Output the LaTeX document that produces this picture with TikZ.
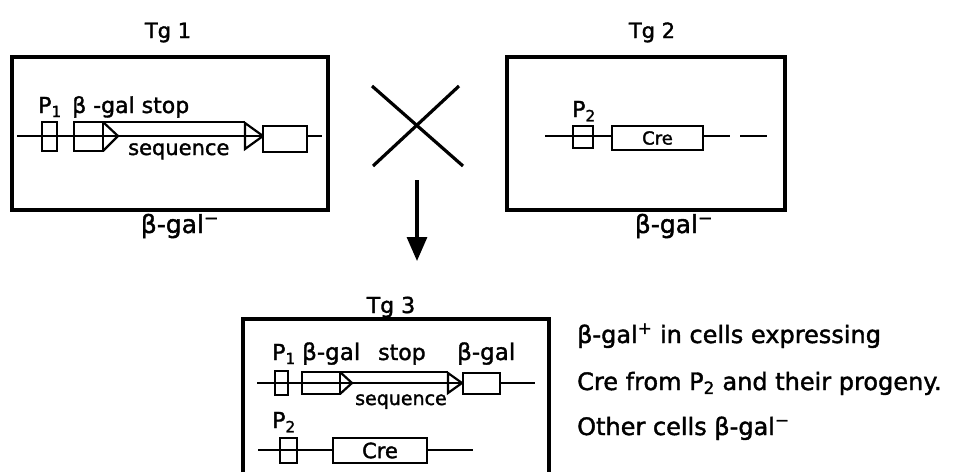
\documentclass[tikz,border=0pt]{standalone}
\usepackage{fontspec}
\setmainfont{DejaVu Sans}[FakeBold=1.6]
\usetikzlibrary{arrows.meta,positioning}

\begin{document}
\begin{tikzpicture}[
    x=1pt, y=-1pt,
    panel/.style={draw, line width=3.2pt},
    dna/.style={line width=2pt},
    part/.style={draw, line width=2.2pt},
    prom/.style={rectangle, draw, line width=2.2pt, inner sep=0pt},
    gene/.style={rectangle, draw, fill=white, line width=2.2pt, inner sep=0pt, font=\fontsize{18}{20}\selectfont},
    title/.style={font=\fontsize{21}{22}\selectfont, inner sep=0pt},
    lbl/.style={font=\fontsize{22}{24}\selectfont, inner sep=0pt},
    small/.style={font=\fontsize{19}{22}\selectfont, inner sep=0pt},
    note/.style={font=\fontsize{24}{28}\selectfont, inner sep=0pt, anchor=base west},
    cross/.style={line width=3.2pt},
    arrow/.style={-{Triangle[length=24pt, width=20pt]}, line width=3.2pt}
]
\useasboundingbox (0,0) rectangle (956,472);

% Tg1 panel
\node[panel, minimum width=316, minimum height=153] (tg1) at (170,133.5) {};
\node[title, anchor=base] (tg1lbl) at (168,38) {Tg 1};
\node[lbl, font=\fontsize{25}{28}\selectfont, anchor=base] (tg1res) at (180,233) {β-gal\textsuperscript{−}};
\draw[dna] (17,136) -- (322,136);
\node[prom, minimum width=15, minimum height=29] (p1a) at (49.5,136.5) {};
\draw[part] (74,122) rectangle (103,151);
\draw[part] (103,122) -- (118,136) -- (103,151);
\draw[dna] (103,122) -- (245,122);
\draw[part] (245,123) -- (263,136) -- (245,149) -- cycle;
\node[gene, minimum width=44, minimum height=26] (lz1) at (285,139) {};
\node[lbl, anchor=base west] (p1alb) at (38,113) {P\textsubscript{1}};
\node[lbl, anchor=base west] (bg1) at (72,113) {β -gal stop};
\node[lbl, font=\fontsize{21}{24}\selectfont, anchor=base west] (seq1) at (128,155) {sequence};

% Tg2 panel
\node[panel, minimum width=278, minimum height=153] (tg2) at (646,133.5) {};
\node[title, anchor=base] (tg2lbl) at (652,38) {Tg 2};
\node[lbl, font=\fontsize{25}{28}\selectfont, anchor=base] (tg2res) at (674,233) {β-gal\textsuperscript{−}};
\draw[dna] (545,136) -- (730,136);
\draw[dna] (740,136) -- (767,136);
\node[prom, minimum width=20, minimum height=22] (p2a) at (583,137) {};
\node[gene, minimum width=91, minimum height=24] (cre2) at (657.5,138) {Cre};
\node[lbl, anchor=base west] (p2alb) at (572,117) {P\textsubscript{2}};

% cross and arrow
\draw[cross] (372,86) -- (463,166);
\draw[cross] (459,86) -- (373,166);
\coordinate (arrfrom) at (417,180);
\coordinate (arrto) at (417,261);
\draw[arrow] (arrfrom) -- (arrto);

% Tg3 panel (open at the bottom)
\draw[panel] (243,472) -- (243,319) -- (549,319) -- (549,472);
\node[title, font=\fontsize{22}{24}\selectfont, anchor=base] (tg3lbl) at (391,313) {Tg 3};
\draw[dna] (257,383) -- (535,383);
\node[prom, minimum width=13, minimum height=24] (p1b) at (281.5,383) {};
\draw[part] (302,372) rectangle (340,394);
\draw[part] (340,372) -- (352,383) -- (340,394);
\draw[dna] (340,372) -- (448,372);
\draw[part] (448,373) -- (462,383) -- (448,393) -- cycle;
\node[gene, minimum width=37, minimum height=21] (lz3) at (481.5,383.5) {};
\node[small, font=\fontsize{22}{24}\selectfont, anchor=base west] (p1blb) at (272,360) {P\textsubscript{1}};
\node[small, font=\fontsize{23}{26}\selectfont, anchor=base west] (bg3) at (302,360) {β-gal};
\node[small, font=\fontsize{22}{24}\selectfont, anchor=base west] (stop3) at (378,360) {stop};
\node[small, font=\fontsize{23}{26}\selectfont, anchor=base west] (bg3b) at (457,360) {β-gal};
\node[small, anchor=base west] (seq3) at (355,405) {sequence};
\draw[dna] (258,450) -- (473,450);
\node[prom, minimum width=17, minimum height=25] (p2b) at (288.5,450.5) {};
\node[gene, font=\fontsize{21}{22}\selectfont, minimum width=94, minimum height=25] (cre3) at (380,450.5) {Cre};
\node[small, font=\fontsize{22}{24}\selectfont, anchor=base west] (p2blb) at (272,428) {P\textsubscript{2}};

% outcome
\node[note] (res1) at (577,343) {β-gal\textsuperscript{+} in cells expressing};
\node[note] (res2) at (577,390) {Cre from P\textsubscript{2} and their progeny.};
\node[note] (res3) at (577,435) {Other cells β-gal\textsuperscript{−}};

\end{tikzpicture}
\end{document}
